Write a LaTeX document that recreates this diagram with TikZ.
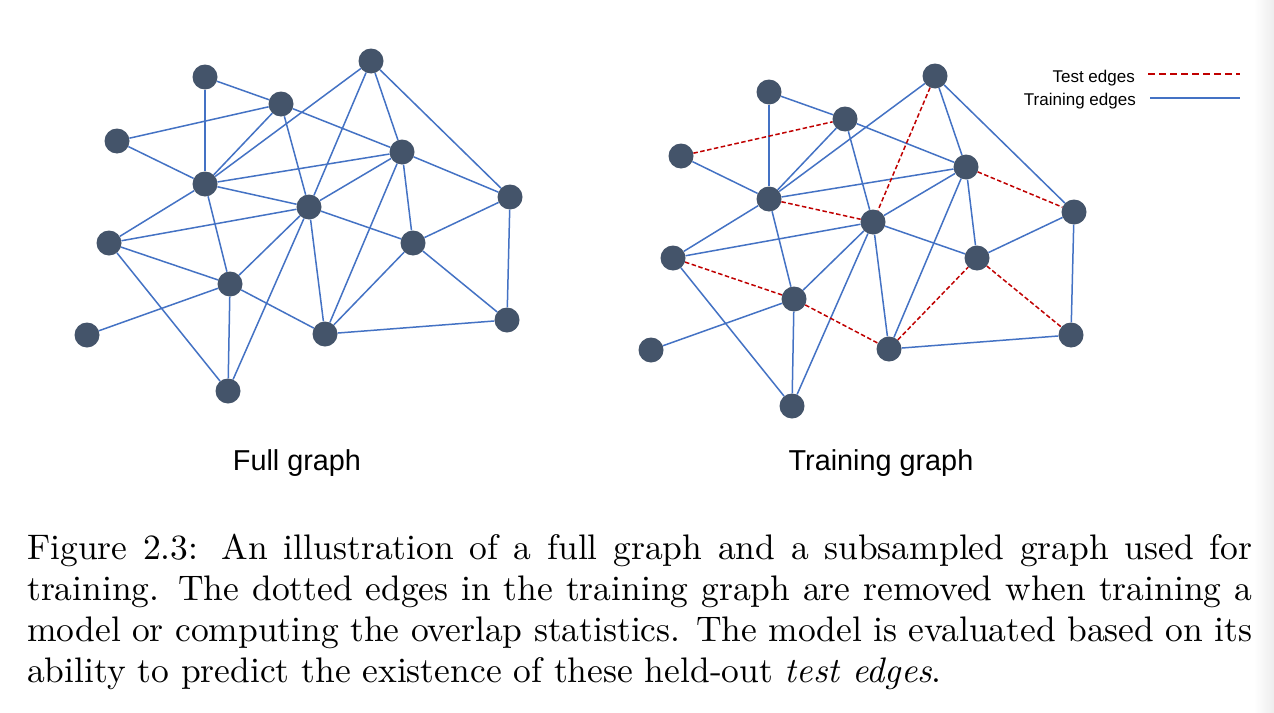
\documentclass[tikz,border=0pt]{standalone}
\usepackage{fontspec}
\newfontfamily\lab{Liberation Sans}
\newfontfamily\capfont{lmroman10-regular.otf}[ItalicFont=lmroman10-italic.otf]
\definecolor{nodecol}{HTML}{44546A}
\definecolor{edgecol}{HTML}{4472C4}
\definecolor{testcol}{HTML}{C00000}
\begin{document}
\begin{tikzpicture}[x=1pt,y=-1pt,
  vtx/.style={circle,fill=nodecol,minimum size=25pt,inner sep=0pt},
  tr/.style={draw=edgecol,line width=1.5pt},
  te/.style={draw=testcol,line width=1.5pt,dash pattern=on 4.5pt off 2.5pt},
  trleg/.style={draw=edgecol,line width=2.6pt},
  teleg/.style={draw=testcol,line width=2.6pt,dash pattern=on 7pt off 4pt},
  graphlabel/.style={font=\lab\fontsize{28.8}{31}\selectfont,inner sep=0pt,anchor=base},
  leglabel/.style={font=\lab\fontsize{17}{19}\selectfont,inner sep=0pt,anchor=base east},
  captext/.style={font=\capfont\fontsize{35.5}{41}\selectfont,text width=1225pt,align=justify,inner sep=0pt,anchor=base west}]
\useasboundingbox (0,0) rectangle (1274,712);
\fill[white] (0,0) rectangle (1274,712);
\shade[left color=white,right color=black!7] (1254,0) rectangle (1274,712);
% nodes
\foreach \n/\x/\y in {A/205/77,B/281/104,C/371/61,D/117/141,E/205/184,F/402/152,G/309/207,H/510/197,I/109/243,J/413/243,K/230/284,L/87/335,M/325/334,N/507/320,O/228/391}{
  \node[vtx] (l\n) at (\x,\y) {};
  \node[vtx] (r\n) at (\x+564,\y+15) {};
}
% full graph edges
\foreach \a/\b in {A/B,A/E,D/B,D/E,B/E,B/G,B/F,E/C,E/F,E/G,E/I,E/K,C/G,C/F,C/H,F/G,F/H,F/J,F/M,G/I,G/K,G/O,G/M,G/J,H/J,H/N,I/K,I/O,J/M,J/N,K/L,K/O,K/M,M/N}{
  \draw[tr] (l\a) -- (l\b);
}
% training graph: training edges
\foreach \a/\b in {A/B,A/E,D/E,B/E,B/G,B/F,E/C,E/F,E/I,E/K,C/F,C/H,F/G,F/J,F/M,G/I,G/K,G/O,G/M,G/J,H/J,H/N,I/O,K/L,K/O,M/N}{
  \draw[tr] (r\a) -- (r\b);
}
% training graph: test edges
\foreach \a/\b in {D/B,E/G,C/G,F/H,I/K,K/M,M/J,J/N}{
  \draw[te] (r\a) -- (r\b);
}
% labels
\node[graphlabel] (full) at (297,470) {Full graph};
\node[graphlabel] (train) at (881,470) {Training graph};
% legend
\node[leglabel] (legtest) at (1135,82) {Test edges};
\node[leglabel] (legtrain) at (1136,105) {Training edges};
\coordinate (t1) at (1148,74);
\coordinate (t2) at (1240,74);
\coordinate (b1) at (1150,98);
\coordinate (b2) at (1240,98);
\draw[teleg] (t1) -- (t2);
\draw[trleg] (b1) -- (b2);
% caption
\node[captext] (cap) at (27,559) {Figure 2.3: An illustration of a full graph and a subsampled graph used for\linebreak training. The dotted edges in the training graph are removed when training a\linebreak model or computing the overlap statistics. The model is evaluated based on its\linebreak ability to predict the existence of these held-out \emph{test edges}.};
\end{tikzpicture}
\end{document}
